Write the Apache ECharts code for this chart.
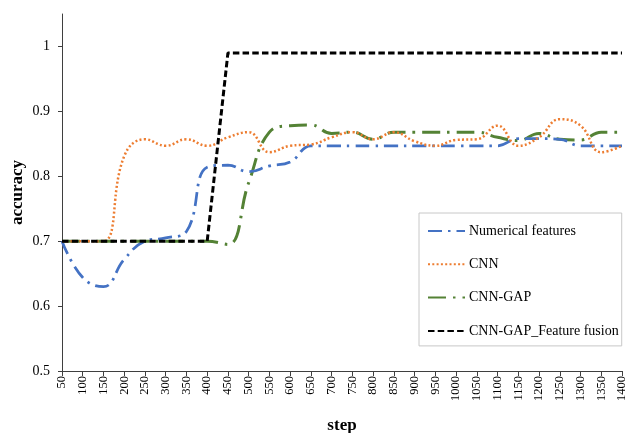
<!DOCTYPE html>
<html>
<head>
<meta charset="utf-8">
<script src="https://cdn.jsdelivr.net/npm/echarts@6/dist/echarts.min.js"></script>
<style>
  html, body { margin: 0; padding: 0; background: #fff; }
  #chart { width: 630px; height: 433px; }
</style>
</head>
<body>
<div id="chart"></div>
<script>
// Training steps on the x axis
const steps = ['50','100','150','200','250','300','350','400','450','500','550','600','650','700',
  '750','800','850','900','950','1000','1050','1100','1150','1200','1250','1300','1350','1400'];

// Accuracy per model
const numericalFeatures = [0.700,0.644,0.630,0.672,0.700,0.705,0.715,0.814,0.817,0.807,0.816,0.822,0.847,0.847,
  0.847,0.847,0.847,0.847,0.847,0.847,0.847,0.847,0.858,0.858,0.857,0.847,0.847,0.847];
const cnn = [0.700,0.700,0.700,0.831,0.857,0.847,0.857,0.847,0.860,0.868,0.837,0.847,0.849,0.860,
  0.868,0.857,0.868,0.854,0.847,0.856,0.857,0.878,0.847,0.860,0.888,0.878,0.837,0.847];
const cnnGap = [0.700,0.700,0.700,0.700,0.700,0.700,0.700,0.700,0.695,0.790,0.868,0.878,0.879,0.866,
  0.868,0.857,0.868,0.868,0.868,0.868,0.868,0.860,0.855,0.866,0.857,0.856,0.868,0.868];
const featureFusion = [0.700,0.700,0.700,0.700,0.700,0.700,0.700,0.700,0.990,0.990,0.990,0.990,0.990,0.990,
  0.990,0.990,0.990,0.990,0.990,0.990,0.990,0.990,0.990,0.990,0.990,0.990,0.990,0.990];

// Y axis tick values
const yTicks = [0.5, 0.6, 0.7, 0.8, 0.9, 1.0];

const serif = '"Liberation Serif", "Times New Roman", serif';
const axisColor = '#3f3f3f';

const chart = echarts.init(document.getElementById('chart'));
chart.setOption({
  animation: false,
  backgroundColor: '#fff',
  grid: { left: 62, right: 8, top: 14, bottom: 62, containLabel: false, outerBoundsMode: 'none' },
  legend: {
    orient: 'vertical',
    left: 419,
    top: 213,
    padding: [11, 3, 8, 8],
    itemWidth: 37,
    itemHeight: 14,
    itemGap: 19.3,
    borderColor: '#c8c8c8',
    borderWidth: 1,
    itemStyle: { color: 'transparent', borderWidth: 0, opacity: 0 },
    textStyle: { fontFamily: serif, fontSize: 14, color: '#000', padding: [0, 0, 0, -1] },
    data: ['Numerical features', 'CNN', 'CNN-GAP', 'CNN-GAP_Feature fusion']
  },
  xAxis: {
    type: 'category',
    data: steps,
    boundaryGap: false,
    name: 'step',
    nameLocation: 'middle',
    nameGap: 46,
    nameMoveOverlap: false,
    nameTextStyle: { fontFamily: serif, fontSize: 17, fontWeight: 'bold', color: '#000' },
    axisLine: { lineStyle: { color: axisColor, width: 1 } },
    axisTick: { alignWithLabel: true, length: 5, lineStyle: { color: axisColor } },
    axisLabel: { interval: 0, rotate: 90, margin: 5, fontFamily: serif, fontSize: 12.5, color: '#000' }
  },
  yAxis: {
    type: 'value',
    min: 0.5,
    max: 1.05,
    interval: 0.1,
    name: 'accuracy',
    nameLocation: 'middle',
    nameGap: 36,
    nameMoveOverlap: false,
    nameTextStyle: { fontFamily: serif, fontSize: 17, fontWeight: 'bold', color: '#000' },
    splitLine: { show: false },
    axisLine: { show: true, lineStyle: { color: axisColor, width: 1 } },
    axisTick: { show: true, length: 4, lineStyle: { color: axisColor }, customValues: yTicks },
    axisLabel: {
      margin: 12,
      fontFamily: serif, fontSize: 14, color: '#000',
      customValues: yTicks,
      formatter: v => (Math.abs(v - 1) < 1e-9 ? '1' : v.toFixed(1))
    }
  },
  series: [
    {
      name: 'Numerical features', type: 'line', data: numericalFeatures,
      smooth: 0.45, symbol: 'none', z: 3,
      lineStyle: { color: '#4472C4', width: 2.75, type: [14, 6, 2.5, 6], cap: 'butt' },
      itemStyle: { color: '#4472C4' }
    },
    {
      name: 'CNN', type: 'line', data: cnn,
      smooth: 0.45, symbol: 'none', z: 4,
      lineStyle: { color: '#ED7D31', width: 2.5, type: [2, 2.3], cap: 'butt' },
      itemStyle: { color: '#ED7D31' }
    },
    {
      name: 'CNN-GAP', type: 'line', data: cnnGap,
      smooth: 0.45, symbol: 'none', z: 2,
      lineStyle: { color: '#548235', width: 3, type: [18, 7, 2.5, 7], cap: 'butt' },
      itemStyle: { color: '#548235' }
    },
    {
      name: 'CNN-GAP_Feature fusion', type: 'line', data: featureFusion,
      smooth: false, symbol: 'none', z: 5,
      lineStyle: { color: '#000000', width: 3, type: [6.5, 3.2], cap: 'butt' },
      itemStyle: { color: '#000000' }
    }
  ]
});
</script>
</body>
</html>
